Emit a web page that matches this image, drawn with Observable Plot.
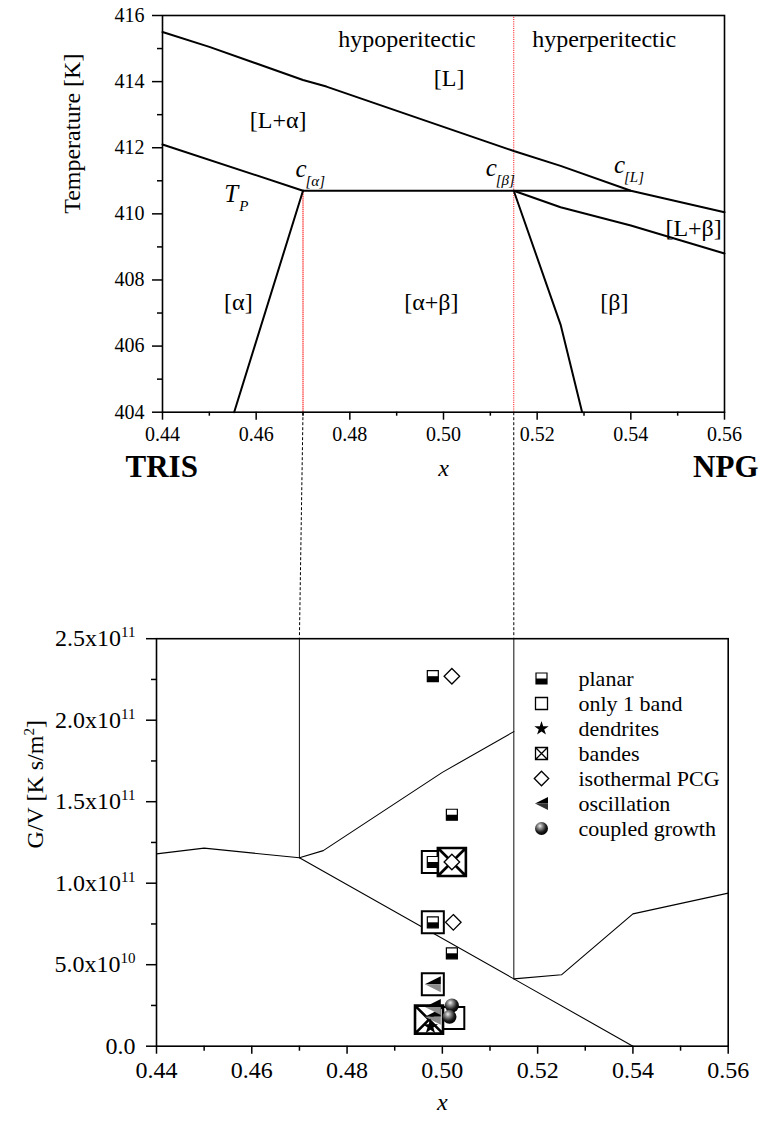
<!DOCTYPE html>
<html>
<head>
<meta charset="utf-8">
<script src="https://cdn.jsdelivr.net/npm/d3@7"></script>
<script src="https://cdn.jsdelivr.net/npm/@observablehq/plot@0.6"></script>
<style>
  html, body { margin: 0; padding: 0; background: #fff; }
  #wrap { position: relative; width: 765px; height: 1124px; overflow: hidden; background: #fff; font-family: 'Liberation Serif', serif; }
  #wrap > * { position: absolute; }
  svg { overflow: visible; }
</style>
</head>
<body>
<div id="wrap"></div>
<script>
// ================= DATA : top panel (phase diagram) =================
const xTicksMajor = [0.44, 0.46, 0.48, 0.50, 0.52, 0.54, 0.56];
const xTicksMinor = [0.45, 0.47, 0.49, 0.51, 0.53, 0.55];
const tTicksMajor = [404, 406, 408, 410, 412, 414, 416];
const tTicksMinor = [405, 407, 409, 411, 413, 415];

const liquidus        = [[0.44, 415.5], [0.45, 415.05], [0.47, 414.05], [0.475, 413.85], [0.515, 411.9], [0.525, 411.45], [0.54, 410.7], [0.56, 410.05]];
const solidusAlpha    = [[0.44, 412.1], [0.47, 410.7]];
const peritecticLine  = [[0.47, 410.7], [0.54, 410.7]];
const solvusAlpha     = [[0.47, 410.7], [0.4553, 404]];
const solidusBeta     = [[0.515, 410.7], [0.525, 410.2], [0.54, 409.65], [0.56, 408.8]];
const solvusBeta      = [[0.515, 410.7], [0.525, 406.65], [0.5296, 404]];
const xAlpha = 0.47, xBeta = 0.515, Tperitectic = 410.7;

const regionLabels = ["hypoperitectic", "hyperperitectic", "[L]", "[L+α]", "[α]", "[α+β]", "[β]", "[L+β]"];
const regionX      = [0.4922, 0.5343, 0.5012, 0.4647, 0.4562, 0.4974, 0.5365, 0.5534];
const regionT      = [415.27, 415.27, 414.1, 412.82, 407.33, 407.33, 407.33, 409.55];

const pointLabels = ["c", "c", "c", "T"];
const pointSubs   = ["[α]", "[β]", "[L]", "P"];
const pointX      = [0.4684, 0.5090, 0.5364, 0.4532];
const pointT      = [411.11, 411.13, 411.23, 410.35];

// ================= DATA : bottom panel (G/V) =================
const gvTicksMajor = [0, 5e10, 1e11, 1.5e11, 2e11, 2.5e11];
const gvTickLabels = ["0.0", "5.0x10^10", "1.0x10^11", "1.5x10^11", "2.0x10^11", "2.5x10^11"];
const gvTicksMinor = [2.5e10, 7.5e10, 1.25e11, 1.75e11, 2.25e11];

const gvLineLeft   = [[0.44, 1.18e11], [0.45, 1.215e11], [0.47, 1.156e11]];
const gvLineUpper  = [[0.47, 1.156e11], [0.475, 1.20e11], [0.50, 1.68e11], [0.515, 1.93e11]];
const gvLineLower  = [[0.47, 1.156e11], [0.515, 4.13e10], [0.54, 0]];
const gvLineRight  = [[0.515, 4.13e10], [0.525, 4.38e10], [0.54, 8.12e10], [0.56, 9.39e10]];
const gvVerticals  = [[0.47, 1.156e11, 2.5e11], [0.515, 4.13e10, 2.5e11]];

const planar        = [[0.498, 2.27e11], [0.502, 1.42e11], [0.498, 1.13e11], [0.498, 7.6e10], [0.502, 5.7e10]];
const onlyOneBand   = [[0.498, 1.13e11], [0.498, 7.6e10], [0.498, 3.8e10], [0.5023, 1.73e10]];
const dendrites     = [[0.4975, 1.2e10]];
const bandes        = [[0.502, 1.13e11], [0.4972, 1.63e10]];
const isothermalPCG = [[0.502, 2.27e11], [0.502, 1.13e11], [0.5023, 7.6e10]];
const oscillation   = [[0.498, 3.8e10], [0.498, 2.4e10], [0.498, 1.8e10]];
const coupledGrowth = [[0.502, 2.5e10], [0.5015, 1.8e10]];

const legendLabels = ["planar", "only 1 band", "dendrites", "bandes", "isothermal PCG", "oscillation", "coupled growth"];

// ================= LAYOUT =================
const W = 765;
const FONT = "Liberation Serif";
const topH = 637;
const TM = {top: 15, right: 41, bottom: topH - 411.7, left: 162};
const botTop = 637, botH = 1124 - 637;
const BM = {top: 1.2, right: 37.3, bottom: 1124 - 1045.7, left: 156};

const X = d => d[0], Y = d => d[1];
const R = side => side / Math.sqrt(Math.PI);

// custom symbols
const halfBottom = {draw(ctx, size) { const s = Math.sqrt(size) / 2; ctx.moveTo(-s, 0); ctx.lineTo(s, 0); ctx.lineTo(s, s); ctx.lineTo(-s, s); ctx.closePath(); }};
const crossSquare = {draw(ctx, size) { const s = Math.sqrt(size) / 2; ctx.moveTo(-s, -s); ctx.lineTo(s, -s); ctx.lineTo(s, s); ctx.lineTo(-s, s); ctx.closePath(); ctx.moveTo(-s, -s); ctx.lineTo(s, s); ctx.moveTo(s, -s); ctx.lineTo(-s, s); }};
const triTop = {draw(ctx, size) { const s = Math.sqrt(size) / 2; ctx.moveTo(-s, 0); ctx.lineTo(s, -s); ctx.lineTo(s, 0); ctx.closePath(); }};
const triBottom = {draw(ctx, size) { const s = Math.sqrt(size) / 2; ctx.moveTo(-s, 0); ctx.lineTo(s, 0); ctx.lineTo(s, s); ctx.closePath(); }};

const wrap = document.getElementById("wrap");

// ================= TOP PLOT =================
const topPlotW = W - TM.left - TM.right;
const topPlotH = topH - TM.top - TM.bottom;
const botPlotW = W - BM.left - BM.right;
const pxBotX = x => BM.left + (x - 0.44) / 0.12 * botPlotW;
const topXfromPx = p => 0.44 + (p - TM.left) / topPlotW * 0.12;
const tGap = 404 - TM.bottom / topPlotH * 12;

const regionData = regionLabels.map((t, i) => ({t, x: regionX[i], y: regionT[i]}));
const pointData = pointLabels.map((t, i) => ({t, s: pointSubs[i], x: pointX[i], y: pointT[i], sdx: t === "T" ? 14 : 10}));

const topPlot = Plot.plot({
  width: W, height: topH,
  marginTop: TM.top, marginRight: TM.right, marginBottom: TM.bottom, marginLeft: TM.left,
  style: {fontFamily: FONT, color: "black", background: "transparent", overflow: "visible"},
  x: {domain: [0.44, 0.56]},
  y: {domain: [404, 416]},
  marks: [
    Plot.ruleX([xAlpha], {x: d => d, y1: 404, y2: Tperitectic, stroke: "red", strokeWidth: 1, strokeDasharray: "1.5,0.6"}),
    Plot.ruleX([xBeta], {x: d => d, y1: 404, y2: 416, stroke: "red", strokeWidth: 1, strokeDasharray: "1,1.2"}),
    Plot.link([xAlpha, xBeta], {x1: d => d, y1: 404, x2: d => topXfromPx(pxBotX(d)), y2: tGap, stroke: "black", strokeWidth: 1, strokeDasharray: "3,2", clip: false}),
    Plot.line(liquidus, {x: X, y: Y, stroke: "black", strokeWidth: 2}),
    Plot.line(solidusAlpha, {x: X, y: Y, stroke: "black", strokeWidth: 2}),
    Plot.line(peritecticLine, {x: X, y: Y, stroke: "black", strokeWidth: 2}),
    Plot.line(solvusAlpha, {x: X, y: Y, stroke: "black", strokeWidth: 2}),
    Plot.line(solidusBeta, {x: X, y: Y, stroke: "black", strokeWidth: 2}),
    Plot.line(solvusBeta, {x: X, y: Y, stroke: "black", strokeWidth: 2}),
    Plot.frame({stroke: "black", strokeWidth: 1.6}),
    Plot.axisX(xTicksMajor, {tickSize: 8, tickPadding: 7, fontSize: 20, strokeWidth: 1.5, tickFormat: d3.format(".2f"), label: null}),
    Plot.axisX(xTicksMinor, {tickSize: 4, strokeWidth: 1.5, tickFormat: () => "", label: null}),
    Plot.axisY(tTicksMajor, {tickSize: 10, tickPadding: 8, fontSize: 20, strokeWidth: 1.5, label: null}),
    Plot.axisY(tTicksMinor, {tickSize: 5, strokeWidth: 1.5, tickFormat: () => "", label: null}),
    Plot.text(regionData, {x: "x", y: "y", text: "t", fontSize: 24, lineAnchor: "middle", fill: "black"}),
    Plot.text(pointData.filter(d => d.t === "c"), {x: "x", y: "y", text: "t", fontSize: 25, fontStyle: "italic", textAnchor: "start", lineAnchor: "bottom", fill: "black"}),
    Plot.text(pointData.filter(d => d.t === "c"), {x: "x", y: "y", text: "s", fontSize: 15, fontStyle: "italic", textAnchor: "start", lineAnchor: "bottom", dx: 10, dy: 9, fill: "black"}),
    Plot.text(pointData.filter(d => d.t === "T"), {x: "x", y: "y", text: "t", fontSize: 25, fontStyle: "italic", textAnchor: "start", lineAnchor: "bottom", fill: "black"}),
    Plot.text(pointData.filter(d => d.t === "T"), {x: "x", y: "y", text: "s", fontSize: 15, fontStyle: "italic", textAnchor: "start", lineAnchor: "bottom", dx: 15, dy: 9, fill: "black"}),
    Plot.text(["Temperature [K]"], {frameAnchor: "left", text: d => d, rotate: -90, dx: -83, lineAnchor: "bottom", fontSize: 24, fill: "black"}),
    Plot.text(["TRIS"], {frameAnchor: "bottom-left", text: d => d, dx: -37, dy: 65, textAnchor: "start", lineAnchor: "bottom", fontSize: 31, fontWeight: "bold", fill: "black"}),
    Plot.text(["NPG"], {frameAnchor: "bottom-right", text: d => d, dx: 34, dy: 65, textAnchor: "end", lineAnchor: "bottom", fontSize: 31, fontWeight: "bold", fill: "black"}),
    Plot.text(["x"], {frameAnchor: "bottom", text: d => d, dy: 64, lineAnchor: "bottom", fontSize: 24, fontStyle: "italic", fill: "black"})
  ]
});
topPlot.style.left = "0px"; topPlot.style.top = "0px";
wrap.appendChild(topPlot);

// ================= BOTTOM PLOT =================
const lineStyle = {x: X, y: Y, stroke: "black", strokeWidth: 1.1};
const botPlot = Plot.plot({
  width: W, height: botH,
  marginTop: BM.top, marginRight: BM.right, marginBottom: BM.bottom, marginLeft: BM.left,
  style: {fontFamily: FONT, color: "black", background: "transparent", overflow: "visible"},
  x: {domain: [0.44, 0.56]},
  y: {domain: [0, 2.5e11]},
  marks: [
    Plot.ruleX(gvVerticals, {x: d => d[0], y1: d => d[1], y2: d => d[2], stroke: "#222", strokeWidth: 1.1}),
    Plot.line(gvLineLeft, lineStyle),
    Plot.line(gvLineUpper, lineStyle),
    Plot.line(gvLineLower, lineStyle),
    Plot.line(gvLineRight, lineStyle),
    Plot.frame({stroke: "black", strokeWidth: 1.6}),
    Plot.axisX(xTicksMajor, {tickSize: 8, tickPadding: 7, fontSize: 24, strokeWidth: 1.5, tickFormat: d3.format(".2f"), label: null}),
    Plot.axisX(xTicksMinor, {tickSize: 5, strokeWidth: 1.5, tickFormat: () => "", label: null}),
    Plot.axisY(gvTicksMajor, {tickSize: 10, tickPadding: 11, fontSize: 24, strokeWidth: 1.5, tickFormat: d => gvTickLabels[gvTicksMajor.indexOf(d)], label: null}),
    Plot.axisY(gvTicksMinor, {tickSize: 5, strokeWidth: 1.5, tickFormat: () => "", label: null}),
    // markers
    Plot.dot(onlyOneBand, {x: X, y: Y, symbol: "square", r: R(22), fill: "white", stroke: "black", strokeWidth: 2}),
    Plot.dot(bandes, {x: X, y: Y, symbol: crossSquare, r: R(28), fill: "white", stroke: "black", strokeWidth: 2.6}),
    Plot.dot(planar, {x: X, y: Y, symbol: "square", r: R(11), fill: "white", stroke: "black", strokeWidth: 1.2}),
    Plot.dot(planar, {x: X, y: Y, symbol: halfBottom, r: R(11), fill: "black", stroke: "none"}),
    Plot.dot(isothermalPCG, {x: X, y: Y, symbol: "diamond2", r: 7, fill: "white", stroke: "black", strokeWidth: 1.3}),
    Plot.dot(oscillation, {x: X, y: Y, symbol: triTop, r: R(16), fill: "black", stroke: "none"}),
    Plot.dot(oscillation, {x: X, y: Y, symbol: triBottom, r: R(16), fill: "#8a8a8a", stroke: "none"}),
    Plot.dot(dendrites, {x: X, y: Y, symbol: "star", r: 4.8, fill: "black", stroke: "none"}),
    Plot.dot(coupledGrowth, {x: X, y: Y, symbol: "circle", r: 7, fill: "url(#sphereGrad)", stroke: "none"}),
    // axis titles
    Plot.text(["G/V [K s/m^2]"], {frameAnchor: "left", text: d => d, rotate: -90, dx: -114, dy: 6, lineAnchor: "bottom", fontSize: 24, fill: "black"}),
    Plot.text(["x"], {frameAnchor: "bottom", text: d => d, dy: 64, lineAnchor: "bottom", fontSize: 24, fontStyle: "italic", fill: "black"})
  ]
});
botPlot.style.left = "0px"; botPlot.style.top = botTop + "px";
wrap.appendChild(botPlot);

// sphere gradient
const defs = d3.select(botPlot).insert("defs", ":first-child");
const grad = defs.append("radialGradient").attr("id", "sphereGrad")
  .attr("cx", "0.4").attr("cy", "0.35").attr("r", "0.65").attr("fx", "0.38").attr("fy", "0.3");
grad.append("stop").attr("offset", "0").attr("stop-color", "#f2f2f2");
grad.append("stop").attr("offset", "0.25").attr("stop-color", "#9c9c9c");
grad.append("stop").attr("offset", "0.7").attr("stop-color", "#1c1c1c");
grad.append("stop").attr("offset", "1").attr("stop-color", "#000");

// superscripts ("^" marks the exponent) in tick labels and axis title
d3.select(botPlot).selectAll("text").each(function () {
  const s = this.textContent; const k = s.indexOf("^");
  if (k < 0 || this.querySelector("tspan")) return;
  const t = d3.select(this);
  const m = /^(\d+)(.*)$/.exec(s.slice(k + 1));
  t.text(s.slice(0, k));
  t.append("tspan").attr("dy", "-9").attr("font-size", "15px").text(m[1]);
  if (m[2]) t.append("tspan").attr("dy", "9").text(m[2]);
});

// ================= LEGEND (inside lower panel) =================
const legTop = 640, legLeft = 500;
const legSym = 41, legText = 78;
const legendPlot = Plot.plot({
  width: 240, height: 230, margin: 0,
  style: {fontFamily: FONT, color: "black", background: "transparent", overflow: "visible"},
  y: {type: "point", domain: legendLabels, range: [663 - legTop, 843 - legTop], axis: null},
  marks: [
    Plot.dot(["planar"], {y: d => d, frameAnchor: "left", dx: legSym, symbol: "square", r: R(11), fill: "white", stroke: "black", strokeWidth: 1.2}),
    Plot.dot(["planar"], {y: d => d, frameAnchor: "left", dx: legSym, symbol: halfBottom, r: R(11), fill: "black"}),
    Plot.dot(["only 1 band"], {y: d => d, frameAnchor: "left", dx: legSym, symbol: "square", r: R(12), fill: "white", stroke: "black", strokeWidth: 1.3}),
    Plot.dot(["dendrites"], {y: d => d, frameAnchor: "left", dx: legSym, symbol: "star", r: 4.5, fill: "black"}),
    Plot.dot(["bandes"], {y: d => d, frameAnchor: "left", dx: legSym, symbol: crossSquare, r: R(12), fill: "white", stroke: "black", strokeWidth: 1.3}),
    Plot.dot(["isothermal PCG"], {y: d => d, frameAnchor: "left", dx: legSym, symbol: "diamond2", r: 6.5, fill: "white", stroke: "black", strokeWidth: 1.3}),
    Plot.dot(["oscillation"], {y: d => d, frameAnchor: "left", dx: legSym, symbol: triTop, r: R(13), fill: "black"}),
    Plot.dot(["oscillation"], {y: d => d, frameAnchor: "left", dx: legSym, symbol: triBottom, r: R(13), fill: "#333"}),
    Plot.dot(["coupled growth"], {y: d => d, frameAnchor: "left", dx: legSym, symbol: "circle", r: 6.5, fill: "url(#sphereGrad)"}),
    Plot.text(legendLabels, {y: d => d, text: d => d, frameAnchor: "left", dx: legText, textAnchor: "start", fontSize: 22, fill: "black"})
  ]
});
legendPlot.style.left = legLeft + "px"; legendPlot.style.top = legTop + "px";
wrap.appendChild(legendPlot);
</script>
</body>
</html>
